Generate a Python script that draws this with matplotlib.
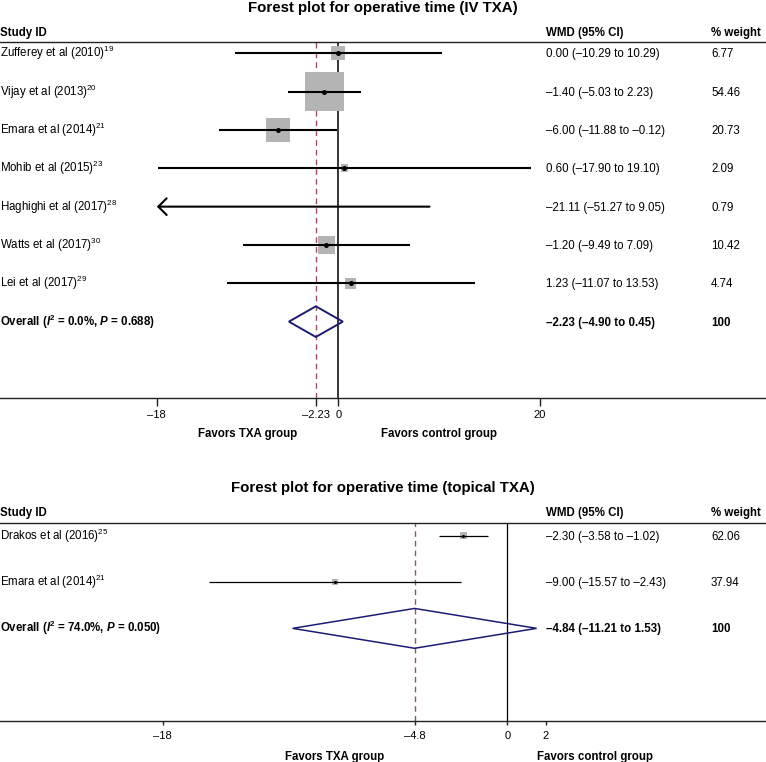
import matplotlib.pyplot as plt
import matplotlib.transforms as mtransforms

plt.rcParams['font.family'] = ['Liberation Sans', 'DejaVu Sans']
plt.rcParams['mathtext.fontset'] = 'custom'
plt.rcParams['mathtext.rm'] = 'Liberation Sans'
plt.rcParams['mathtext.it'] = 'Liberation Sans:italic'
plt.rcParams['mathtext.bf'] = 'Liberation Sans:bold'
plt.rcParams['mathtext.bfit'] = 'Liberation Sans:italic:bold'

# ---- data: IV TXA ----
iv_studies = ['Zufferey et al (2010)', 'Vijay et al (2013)', 'Emara et al (2014)',
              'Mohib et al (2015)', 'Haghighi et al (2017)', 'Watts et al (2017)',
              'Lei et al (2017)']
iv_refs = ['19', '20', '21', '23', '28', '30', '29']
iv_wmd = [0.00, -1.40, -6.00, 0.60, -21.11, -1.20, 1.23]
iv_lo = [-10.29, -5.03, -11.88, -17.90, -51.27, -9.49, -11.07]
iv_hi = [10.29, 2.23, -0.12, 19.10, 9.05, 7.09, 13.53]
iv_weight = [6.77, 54.46, 20.73, 2.09, 0.79, 10.42, 4.74]
iv_overall = [-2.23, -4.90, 0.45]
iv_stats = ['0.0%', '0.688']
iv_ticks = [-18, -2.23, 0, 20]
iv_ticklabels = ['\u201318', '\u20132.23', '0', '20']

# ---- data: topical TXA ----
top_studies = ['Drakos et al (2016)', 'Emara et al (2014)']
top_refs = ['25', '21']
top_wmd = [-2.30, -9.00]
top_lo = [-3.58, -15.57]
top_hi = [-1.02, -2.43]
top_weight = [62.06, 37.94]
top_overall = [-4.84, -11.21, 1.53]
top_stats = ['74.0%', '0.050']
top_ticks = [-18, -4.84, 0, 2]
top_ticklabels = ['\u201318', '\u20134.8', '0', '2']

W, H = 766, 762
NAVY = '#1c1c74'
DASH = '#a0505c'
GREY = '#b4b4b4'


def fmt(v):
    return f'{v:.2f}'.replace('-', '\u2013')


def fy(px):
    return 1 - px / H


def panel(fig, title, studies, refs, wmd, lo, hi, weight, overall, stats,
          ticks, ticklabels, st):
    ax = fig.add_axes([0, fy(st['axis_y']), 1, (st['axis_y'] - st['head_y']) / H])
    n = len(studies)
    ax.set_ylim(n + 2, -st['top_pad'])
    ax.set_xlim(-st['zero_px'] / st['scale'], (W - st['zero_px']) / st['scale'])
    xmin, xmax = ticks[0], ticks[-1]

    ax.axvline(0, color='black', lw=st['zero_lw'], zorder=1)
    ax.axvline(overall[0], color=DASH, lw=1.0, ls=(0, (4, 3)), zorder=1)

    rows = list(range(n))
    vis = [i for i in rows if xmin <= wmd[i] <= xmax]
    ax.scatter([wmd[i] for i in vis], vis, marker='s', color=GREY,
               s=[st['box_k'] * weight[i] for i in vis], lw=0, zorder=2)
    for i in rows:
        a, b = max(lo[i], xmin), min(hi[i], xmax)
        if lo[i] < xmin:
            ax.annotate('', xy=(a, i), xytext=(b, i),
                        arrowprops=dict(arrowstyle='->,head_length=0.6,head_width=0.6',
                                        lw=st['ci_lw'], color='black',
                                        shrinkA=0, shrinkB=0, mutation_scale=10),
                        zorder=3)
        else:
            ax.plot([a, b], [i, i], color='black', lw=st['ci_lw'],
                    solid_capstyle='butt', zorder=3)
    ax.plot([wmd[i] for i in vis], vis, 'o', color='black', ms=st['dot_ms'],
            mew=0, zorder=4)

    est, olo, ohi = overall
    h = st['dia_h']
    ax.fill([olo, est, ohi, est, olo], [n, n - h, n, n + h, n], facecolor='none',
            edgecolor=NAVY, lw=st['dia_lw'], zorder=3)

    ax.spines[['left', 'right']].set_visible(False)
    for s in ['top', 'bottom']:
        ax.spines[s].set_linewidth(1.0)
        ax.spines[s].set_color('#222222')
    ax.set_yticks([])
    ax.set_xticks(ticks, ticklabels)
    ax.tick_params(axis='x', length=st['tick_len'], width=1.0, pad=st['tick_pad'],
                   labelsize=8, color='#222222')

    tr = mtransforms.blended_transform_factory(ax.transAxes, ax.transData)
    fs = 8.3
    for i in rows:
        kw = dict(xycoords=tr, xytext=(0, -2.97), textcoords='offset points',
                  va='baseline', fontsize=fs)
        ax.annotate(f'{studies[i]}$^{{{refs[i]}}}$', xy=(0.0, i), ha='left', **kw)
        ax.annotate(f'{fmt(wmd[i])} ({fmt(lo[i])} to {fmt(hi[i])})',
                    xy=(546 / W, i), ha='left', **kw)
        ax.annotate(f'{weight[i]:.2f}', xy=(711 / W, i), ha='left', **kw)
    kw = dict(xycoords=tr, xytext=(0, -2.97), textcoords='offset points',
              va='baseline', fontsize=fs, fontweight='bold')
    ax.annotate(f'Overall ($\\mathbfit{{I}}^{{\\mathbf{{2}}}}$ = {stats[0]}, '
                f'$\\mathbfit{{P}}$ = {stats[1]})', xy=(0.0, n), ha='left', **kw)
    ax.annotate(f'{fmt(est)} ({fmt(olo)} to {fmt(ohi)})', xy=(546 / W, n),
                ha='left', **kw)
    ax.annotate('100', xy=(711 / W, n), ha='left', **kw)

    fig.text(0.5, fy(st['title_base']), title, ha='center', va='baseline',
             fontsize=10.8, fontweight='bold')
    for x, s in [(0, 'Study ID'), (546, 'WMD (95% CI)'), (711, '% weight')]:
        fig.text(x / W, fy(st['header_base']), s, ha='left', va='baseline',
                 fontsize=fs, fontweight='bold')

    ftr = mtransforms.blended_transform_factory(ax.transData, fig.transFigure)
    for x, s in zip(st['favor_x'], ['Favors TXA group', 'Favors control group']):
        fig.text(x, fy(st['favor_base']), s, transform=ftr, ha='center',
                 va='baseline', fontsize=8.3, fontweight='bold')
    return ax


fig = plt.figure(figsize=(W / 100, H / 100), dpi=100)

panel(fig, 'Forest plot for operative time (IV TXA)', iv_studies, iv_refs, iv_wmd,
      iv_lo, iv_hi, iv_weight, iv_overall, iv_stats, iv_ticks, iv_ticklabels,
      dict(head_y=41.7, axis_y=398.3, top_pad=0.303, zero_px=338.3, scale=10.08,
           zero_lw=1.1, ci_lw=1.5, box_k=14.5, dot_ms=3.6, dia_h=0.40, dia_lw=1.4,
           tick_len=5.5, tick_pad=2.9, title_base=11.7, header_base=36,
           favor_x=[-9, 10], favor_base=437.3))

panel(fig, 'Forest plot for operative time (topical TXA)', top_studies, top_refs,
      top_wmd, top_lo, top_hi, top_weight, top_overall, top_stats, top_ticks,
      top_ticklabels,
      dict(head_y=523.3, axis_y=721, top_pad=0.268, zero_px=507.3, scale=19.15,
           zero_lw=0.9, ci_lw=0.9, box_k=0.41, dot_ms=2.2, dia_h=0.43, dia_lw=1.1,
           tick_len=2.9, tick_pad=4.1, title_base=492.4, header_base=516,
           favor_x=[-9, 4.57], favor_base=760.3))

fig.savefig('out.png', dpi=100)
